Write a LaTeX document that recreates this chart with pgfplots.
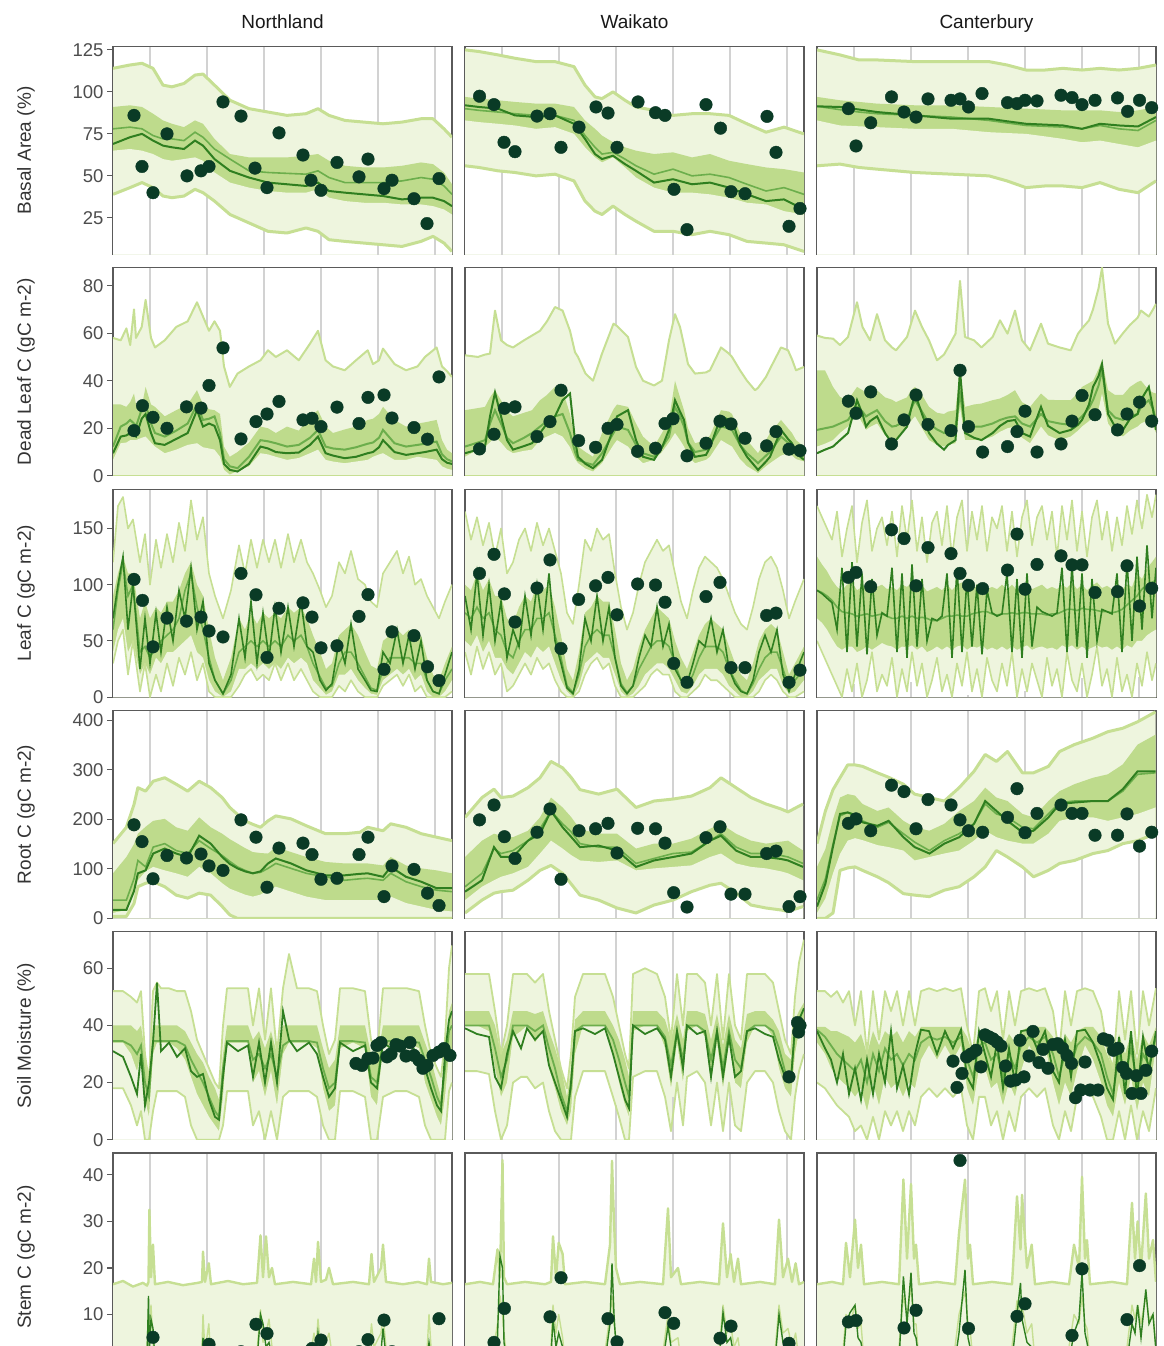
\documentclass[border=0pt]{standalone}
\usepackage{fontspec}
\setmainfont{Liberation Sans}
\usepackage{pgfplots}
\pgfplotsset{compat=1.18}
\usepackage{pgfplotstable}

\definecolor{pale}{HTML}{EEF5DE}
\definecolor{envc}{HTML}{C6DF93}
\definecolor{band}{HTML}{BEDB8C}
\definecolor{lineA}{HTML}{6CAE4C}
\definecolor{lineB}{HTML}{2F7F20}
\definecolor{ptc}{HTML}{0A3B26}
\definecolor{gridc}{HTML}{D2D2D2}
\definecolor{framec}{HTML}{5A5A5A}
\definecolor{tickc}{HTML}{4D4D4D}
\definecolor{labc}{HTML}{333333}

\pgfplotsset{
  env/.style={draw=envc, line width=3pt, mark=none, line join=round},
  lnA/.style={draw=lineA, line width=1.6pt, mark=none},
  lnB/.style={draw=lineB, line width=2pt, mark=none},
  obs/.style={only marks, mark=*, mark size=6.3pt, mark options={draw=ptc, fill=ptc}},
  panel/.style={scale only axis, width=339pt, height=208pt, xmin=0, xmax=339,
    xtick={37,94,151,208,265,322}, xticklabels={}, xmajorgrids,
    major x grid style={draw=gridc, line width=1.3pt},
    xtick style={draw=none}, tick pos=left, tick align=outside,
    axis line style={draw=framec, line width=1.2pt},
    ytick style={draw=framec, line width=1.2pt}, major tick length=6pt,
    /pgf/number format/assume math mode=true,
    yticklabel style={font=\fontsize{18.5}{20}\selectfont, text=tickc},
    every axis y label/.style={at={(axis description cs:0,0.5)}, xshift=-87pt,
      rotate=90, anchor=center, font=\fontsize{19}{21}\selectfont, text=labc},
    every axis title/.style={at={(axis description cs:0.5,1)}, anchor=base,
      yshift=18pt, font=\fontsize{19}{21}\selectfont, text=black!90},
  },
  inner/.style={ytick=\empty},
  rowA/.style={ymin=3.2, ymax=127, ytick={25,50,75,100,125}},
  rowB/.style={ymin=0, ymax=87.5, ytick={0,20,40,60,80}},
  rowC/.style={ymin=0, ymax=185, ytick={0,50,100,150}},
  rowD/.style={ymin=0, ymax=420, ytick={0,100,200,300,400}},
  rowE/.style={ymin=0, ymax=72.8, ytick={0,20,40,60}},
  rowF/.style={ymin=0, ymax=44.7, ytick={10,20,30,40}},
}

% #1 line options, #2 table, #3 grid-line stubs under the lower envelope
\newcommand{\bands}[3][]{%
  \addplot[fill=pale, draw=none, mark=none] table[x=x,y=up] {#2} \closedcycle;
  \addplot[fill=band, draw=none, mark=none] table[x=x,y=bh] {#2} \closedcycle;
  \addplot[fill=pale, draw=none, mark=none] table[x=x,y=bl] {#2} \closedcycle;
  \addplot[fill=white, draw=none, mark=none] table[x=x,y=lo] {#2} \closedcycle;
  \addplot[ycomb, draw=gridc, line width=1.3pt, mark=none] coordinates {#3};
  \addplot[env,#1] table[x=x,y=up] {#2};
  \addplot[env,#1] table[x=x,y=lo] {#2};
  \addplot[lnA,#1] table[x=x,y=m1] {#2};
  \addplot[lnB,#1] table[x=x,y=m2] {#2};
}
\newcommand{\stem}[1]{%
  \addplot[fill=pale, draw=none, mark=none] table[x=x,y=up] {#1} \closedcycle;
  \addplot[env, line width=2.4pt] table[x=x,y=up] {#1};
  \addplot[env, line width=1.4pt] table[x=x,y=bh] {#1};
  \addplot[lnB, line width=1.4pt] table[x=x,y=m2] {#1};
}

% ---------- Basal Area ----------
\pgfplotstableread{
x up lo bh bl m1 m2
0 114 39 91 65 78 69
17 116 43 92 66 79 73
29 117 46 91 65 78 75
40 114 43 87 63 74 71
50 104 38 83 60 72 68
59 103 37 81 59 72 67
71 105 38 79 60 71 66
82 110 42 83 61 76 71
90 110.6 40 81 59 73 68
101.5 104 35 72 52 66 60
117 95 27 63 46 60 53
136 90 22 61 43 53 49
155 88 17 61 41 52 46
174 86 16 61 40 51.5 45
193 87 19 62 40 51 44
205 90 17 63 42 53 46
216 86 12 59 37 49 41
232 83 11 56 35 46 40
251 82 10 55 34 46 39
270 81 9 55 34 46 38
289 82 8 56 33 47 36
308 84 11 58 33 49 37
320 84 14 57 32 48 37
331 78 10 52 30 44 35
339 73 5 45 27 39 32
}\tBaN
\pgfplotstableread{
x up lo bh bl m1 m2
0 125 56 97 83 90 92
14 124 55 96 82 89 91
33 122 53 95 81 88 90
50 120 52 94 80 87 86
71 118 50 93 78 86 85
90 118 51 93 79 86 86
109 115 47 91 75 83 81
120 104 35 83 67 74 72
130 97 29 78 61 67 63
137 96 27 74 58 63 60
148 100 32 70 61 64 62
160 95 27 67 55 60 57
171 91 23 65 49 56 53
189 89 17 63 43 51 46
208 86 17 64 40 54 48
227 87 15 61 40 50 45
245 87 17 63 39 51 46
264 86 15 59 37 49 43
282 81 11 57 34 45 39
301 76 10 55 33 41 35
319 79 9 54 29 43 36
339 75 5 52 27 39 30
}\tBaW
\pgfplotstableread{
x up lo bh bl m1 m2
0 125 56 97 83 91.4 91.4
23 122 57 95 80 89.4 91
42 119 55 94 79.5 88 89.5
60 119 54 93 79 87 88
98 118 52 92 78 86 86
135 118 51 92 78 85 84
172 118 50 91 76 83 84
190 116 47 90.5 75.5 81.5 82.5
209 113 43 90 75 80 81
228 113 44 89.5 73.5 79.5 80.5
246 114 44 89 72 79 80
265 113 43 89 70 78 78
283 114 46 89 71 80 81
302 113 42 88 69 78 80
321 114 40 89 67 77 79.4
339 116 47 91 71 83 85
}\tBaC
\pgfplotstableread{
x y
21 86
29 55.6
40 40
54 75
74 50
88 53
96 55.6
110 94
128 85.6
142 54.6
154 43
166 75.6
190 62.4
198 47.4
208 41.4
224 58
246 49.4
255 60
271 42.4
279 47.4
301 36.4
314 21.6
326 48.4
}\pBaN
\pgfplotstableread{
x y
14.5 97.4
29 92.4
39 70
50 64.4
72 85.6
85 87
96 67
114 79
131 91
143 87.4
152 67
173 94
190.5 87.6
200 86
209 42
222 18
241 92.4
255.5 78.4
266 40.6
280 39.4
302 85.4
311 64
324 20
335 30.6
}\pBaW
\pgfplotstableread{
x y
31.4 90
39 67.8
53.7 81.6
74.5 97
87 88
99 85
111 95.8
134 95
143 95.8
151.5 91
165 99
190.5 93.6
200 93
208 95
220 94.6
244 98
255 96.6
265 92.4
278 95
300.5 96.4
310.6 88.4
322.5 95
334.7 90.6
}\pBaC

% ---------- Dead Leaf C ----------
\pgfplotstableread{
x up lo bh bl m1 m2
0 58 0 30 6.7 12.3 9.5
7.7 57 0 30 13.7 20.7 16.5
13.4 62 0 29 14 22 17
17.2 55 0 31 15 23.5 18
21 70 0 34.6 15 22 17
23 58 0 30 15 20.7 16.5
28.7 62.6 0 29 16 28 24
32.6 74 0 37.4 16.5 30 26
38 58 0 30 14 22 18
42 54 0 29 12.3 18 13.7
51.7 57 0 25 9.5 16.5 13
63.2 62.6 0 27.6 11 19 15.5
74.7 65 0 30 13 22 18
84 73 0 36 13.7 30 27.6
90 67 0 30 12 23.5 20.7
96 61 0 28 11.5 24 22
101.5 65 0 27.6 11 25 21
107 61 0 26 8 18 15
111 46 0 12.3 2.5 7 5
116.8 37.4 0 8 0.5 4 2.5
124.5 43 0 10 2 3.2 1.8
136 46 0 14 4 8 5
147.5 48.6 0 20.7 9.5 15 12.3
155 52.8 0 20 9 14.5 11.5
162.8 50 0 18 8 13.7 10
174 52.8 0 20.7 6.7 12.3 9.5
185.8 48.6 0 19 7.5 13 9.8
197 55.6 0 25 9.5 16 13
205 61 0 27.6 11 19.3 16.5
212.6 48.6 0 20.7 6.7 12.3 9.5
220 46 0 18 6 11.5 8.5
231.7 44.4 0 19.5 5.3 11 7.4
243 48.6 0 20.7 6 12 8
254.7 52.8 0 23.5 6.7 13.5 9.5
260 47 0 24 8 14 10
266 48.6 0 26 9 16 12
270 53.5 0 29 9.5 19.3 15
281.5 47 0 23.5 6.7 13.7 10
293 44.4 0 20.7 6.7 12.3 8.8
304.5 46 0 22 8 13 9.5
312 50 0 22.5 7.5 13.5 10
323.6 54 0 23.5 6.7 14.4 11
329 46 0 15 4 9 7
334 44 0 11 3 7 5.5
339 41.6 0 9.5 2.5 6 5
}\tDlN
\pgfplotstableread{
x up lo bh bl m1 m2
0 50.7 0 27.6 8 12.3 9.5
13 50 0 28.5 11 14 11
20 51 0 29 12.3 15 12.3
25 51.4 0 33 14 22 25
30 69.5 0 36 16.5 27.6 35
36 57 0 31.8 14 22 25
42 55 0 27 11 16 15
48 54 0 25 9.5 13.7 11
59 57 0 26.5 10.5 16 12.5
67 59 0 27.6 11 18 13.7
75 61 0 31.8 15 20.7 18
82 65 0 34 16.5 23 22
90 71 0 37.4 18 25 25
97.6 69.5 0 36 16.5 26 31.8
105 61 0 26 12 18 34.6
110 52 0 15 7 10 15
113 50 0 12.3 5.3 6.7 8
120.5 43 0 10 3 5.5 5
128 40 0 8 1.8 4.6 3.2
137 51.4 0 18 5.3 9.5 6.7
148.5 64 0 28 13 18 20
152 63 0 30 15 20.7 25
163 58.4 0 29 12.3 19.3 27.6
171 45.8 0 22 8 13 15
178 40 0 16.5 5.3 9.5 8
189 38 0 12.3 6.7 8 6.7
197 40 0 18 10 12 12
204 57 0 23.5 14 16.5 19.3
210 68 0 40 18 29 31.8
215 62.6 0 33 15 25 27
219 55 0 27.6 12.3 20.7 23.5
223 47 0 20 8 14 14
230 43 0 13.7 5.3 10 8
241 43.5 0 15 6.7 11 8.8
245 44.4 0 17 8 13 12
256 54 0 27.6 15 20.7 25
264 51.4 0 27 13 20 23.5
267 50 0 26 12.3 19.3 23.5
275 44.4 0 18 7 13 13
282 40 0 15 4 9.5 8
290 36 0 11 2 6.5 4
293 37 0 9.5 1.1 5.3 2.5
301 41.6 0 15 4 8.5 6
305 45 0 18 5.3 10 8
316 54 0 23.5 8.5 16.5 19.3
323 52.8 0 20 9.5 14 15.5
327 49 0 18 8.5 12.3 13.7
331 44.4 0 15 7 10 9.5
339 45.8 0 12.3 6 8 6.7
}\tDlW
\pgfplotstableread{
x up lo bh bl m1 m2
0 59 0 44.4 12.3 19.3 9.5
8 58 0 44.4 13.5 20 11
16 57.7 0 37.4 15 20.7 12.3
23 55 0 33.2 18 22 15
31 58.4 0 31.8 20.7 23.5 18
40 73 0 37.4 26 29 31.8
45.5 62.6 0 36 22 27 26
49 60 0 34.6 19.3 25 20.7
53 57 0 35 20.5 26 23
60 68 0 36 22 27.6 25
68 57 0 33 17 23 18
75 54 0 32 13.7 20.7 13.7
79 52.8 0 31 15 21 15
90 58.4 0 33 20.7 23.5 20.7
94 64 0 36 23 28 28
98 69.5 0 37.4 25 31.8 34.6
105 62.6 0 34 20 27 26
112 57 0 29 15 22 18
120 48.6 0 26.5 13 19.5 13.5
127 51 0 26 12.3 18 11
131 54 0 27 13 19 13
138.5 59.8 0 27.6 13.7 20.7 15
143 82 0 44.4 29 34.6 44.4
148 58.4 0 29 15 20.7 18
157 57 0 30 15 20.7 16
164.5 54 0 30.4 15 20.7 15
175.6 58.4 0 31.8 16.5 22 18
183 65.4 0 32.5 18.5 23.5 21
190.5 59.8 0 34 20 24.5 23
198 69.5 0 36 20.7 25 23.5
205 57 0 31 16 22 18
213 52.8 0 29 13.7 20.7 16.5
224 64 0 34.6 20.7 26 29
231 55.6 0 32 17 23 21
242.5 54 0 31.8 15 22 18
253.7 52.8 0 31.8 16.5 21.4 19.3
261 59.8 0 35 19 23.5 21.5
265 62 0 37.4 20.7 25 23.5
272 65.4 0 39 23 28.5 30
276 70 0 40 25 31.8 37.4
281.6 79 0 45 28 38 42
285 87.5 0 48.6 34.6 44.4 47
291 64 0 36 22 27.6 26
298 55.6 0 34 18 24.5 20.7
306 60 0 34 16.5 23.5 19.3
313 63.5 0 37.4 19 25 24
320.6 66.5 0 39.5 20.7 26 26
324 69.5 0 40 22 29 32
331.8 67 0 36 23.5 31.8 37.4
336 70 0 35 21 28 28
339 72.3 0 34.6 18 23.5 19.3
}\tDlC
\pgfplotstableread{
x y
21 19
29.5 29.5
40 24.6
54 20
73.5 29
88 28.5
96 38
110 53.8
128 15.5
143 22.8
154 26
166 31.3
190 23.5
199 24.2
208 20.7
224 28.9
246 22
255 33
271 34
279 24.3
301 20.3
314.5 15.4
326 41.6
}\pDlN
\pgfplotstableread{
x y
14.5 11.3
29 17.5
39.4 28.4
50 29
72 16.5
85 22.8
96 36
113.6 14.8
130.6 12
143 20
152 21.6
172.6 10.3
190.5 11.6
200 22
208 24
222 8.4
241 13.7
255 23
266 21.8
280 15.8
301.6 12.6
311 18.6
324 11.2
335 10.6
}\pDlW
\pgfplotstableread{
x y
31.4 31.4
39 26.3
53.7 35.3
74.5 13.4
87 23.5
99 34
111 21.6
134 19
143 44.4
151.5 20.7
165.6 10
190.5 12.3
200 18.6
208 27.2
220 10
244 13.4
255 23
265 33.8
278 25.7
300.5 19.3
310 26
322.5 31
334.7 23
}\pDlC

% ---------- Leaf C ----------
\pgfplotstableread{
x up lo bh bl m1 m2
0 120 30 90 40 60 70
5 170 50 110 60 95 100
10 178 60 125 70 120 125
15 150 20 110 40 90 60
20 158 50 110 50 100 100
27 120 5 70 20 40 25
32 145 30 85 30 45 70
37 100 0 70 20 35 30
43 140 20 80 35 45 75
48 115 5 75 30 50 40
54 145 30 85 40 55 80
60 120 10 85 40 60 50
66 155 35 95 45 70 95
72 130 20 110 50 95 70
78 175 40 120 55 110 115
84 140 15 100 40 80 60
90 160 30 90 35 60 85
96 110 5 60 15 35 30
102 90 0 35 5 15 15
110 70 0 15 0 3 3
118 95 0 35 5 15 20
126 135 10 70 25 40 70
132 110 20 60 25 45 35
138 140 25 75 30 50 85
144 115 15 65 25 45 30
150 140 20 75 30 50 75
156 120 15 70 25 45 35
162 140 30 75 30 50 80
168 115 15 70 25 45 40
175 145 30 80 35 55 80
181 120 15 75 30 50 45
188 140 25 80 35 55 85
194 120 15 70 30 45 45
200 110 5 55 15 30 40
207 95 0 40 8 18 15
213 80 0 25 2 8 6
219 90 0 30 5 10 12
226 120 10 55 20 30 50
232 110 5 60 20 40 30
238 130 15 65 25 40 65
245 105 5 55 15 30 25
252 100 0 40 8 18 15
258 85 0 28 3 8 6
264 80 0 25 2 6 5
270 110 10 50 15 25 40
277 120 15 55 20 35 30
284 130 20 60 25 35 60
290 110 10 55 20 35 30
296 125 20 60 25 35 55
302 100 5 50 15 30 25
308 105 10 55 20 30 50
314 90 0 35 5 15 15
320 80 0 20 0 5 5
326 70 0 15 0 3 3
332 85 0 30 5 15 20
339 100 5 45 15 25 40
}\tLcN
\pgfplotstableread{
x up lo bh bl m1 m2
0 165 40 100 50 75 90
6 140 20 95 45 70 60
12 160 45 110 55 80 110
18 135 25 95 40 70 55
24 155 40 105 50 75 100
30 125 20 90 35 60 50
36 150 30 90 35 55 85
42 110 5 70 25 40 35
48 120 10 65 20 35 60
54 140 20 80 30 50 45
60 150 30 90 40 60 90
66 130 20 85 35 60 55
72 155 35 100 45 70 100
78 135 25 95 40 70 60
84 150 30 100 45 75 110
90 130 15 80 30 55 50
96 110 5 55 15 35 30
102 75 0 25 5 10 8
108 65 0 15 0 4 3
114 100 5 40 10 20 25
120 140 20 75 30 45 70
126 130 30 80 35 55 50
132 150 35 90 40 60 90
138 140 25 85 35 55 50
144 145 30 85 35 55 80
150 110 10 60 20 35 35
156 80 0 30 5 12 10
162 60 0 15 0 4 3
168 75 0 25 3 10 10
174 100 5 45 10 25 35
180 120 10 60 20 35 55
186 130 20 70 25 45 45
192 140 25 80 30 50 80
198 130 20 75 30 50 45
204 135 20 70 25 45 65
210 110 5 50 15 30 25
216 85 0 35 5 15 15
222 70 0 25 3 10 12
228 95 5 40 10 20 30
234 115 10 55 20 35 50
240 125 20 65 25 45 45
246 120 15 70 25 45 70
252 115 15 65 25 45 40
258 105 10 60 20 40 60
264 90 5 45 10 25 25
270 75 0 30 5 15 12
276 65 0 20 0 6 5
282 60 0 15 0 3 3
288 80 0 30 5 12 15
294 105 5 50 15 25 40
300 120 15 60 20 35 55
306 125 20 65 25 40 40
312 115 15 60 25 40 60
318 95 5 40 10 25 20
324 70 0 20 3 8 5
330 85 0 30 5 15 20
339 105 5 45 15 25 40
}\tLcW
\pgfplotstableread{
x up lo bh bl m1 m2
0 170 50 125 70 95 95
5 160 40 118 66 93 92
10 150 30 112 60 90 88
15 140 20 104 52 86 84
20 165 10 98 45 80 60
25 125 0 95 42 76 115
30 150 25 100 45 75 40
35 170 5 102 45 74 120
40 120 30 95 40 72 45
45 155 0 98 42 73 110
50 175 15 100 45 74 38
55 130 40 95 42 72 105
60 150 5 98 45 73 55
65 160 20 100 48 74 75
70 135 10 96 46 72 72
75 165 35 98 45 70 115
80 125 0 95 42 70 40
85 170 25 100 45 72 110
90 140 5 98 44 70 35
95 175 40 102 46 72 118
100 130 10 96 42 70 45
105 160 30 100 45 71 105
110 120 0 94 40 70 50
115 155 15 96 42 68 70
120 165 35 98 45 68 68
125 135 5 95 42 70 72
130 170 20 100 45 72 110
135 125 0 95 42 72 35
140 160 30 100 45 73 115
145 175 10 102 46 72 40
150 130 40 96 42 72 105
155 165 5 100 45 74 45
160 140 25 97 44 75 100
165 170 0 100 46 76 38
170 130 35 96 42 76 95
175 160 15 98 44 74 75
180 150 5 96 42 73 72
185 170 30 100 45 74 74
190 130 10 96 42 74 110
195 165 40 100 45 75 40
200 125 0 95 42 74 105
205 160 25 98 44 75 35
210 175 5 100 46 75 110
215 135 30 96 42 74 45
220 160 15 98 44 74 80
225 170 0 100 45 74 76
230 140 35 96 43 73 74
235 165 10 98 44 74 72
240 125 25 96 42 74 75
245 170 0 100 46 76 115
250 140 40 97 44 78 40
255 175 15 102 46 78 118
260 130 5 96 42 77 45
265 165 30 100 45 79 110
270 125 0 95 42 78 35
275 160 20 99 44 78 105
280 175 45 102 46 77 50
285 140 10 97 44 76 78
290 165 25 99 45 76 76
295 130 0 96 42 75 74
300 160 35 100 45 76 110
305 135 5 96 42 78 40
310 170 20 100 46 82 120
315 145 0 98 44 86 50
320 175 30 110 50 90 125
325 150 10 105 50 96 60
330 180 40 115 55 100 135
335 160 15 120 58 102 70
339 180 30 125 60 104 115
}\tLcC
\pgfplotstableread{
x y
21 104.7
29.5 86
40 44.7
54 70.3
73.5 67.6
88 71.2
96 58.8
110 53.5
128 110
143 91
154 35.3
166 79
190 83.8
199 71.2
208 43.8
224 45.6
246 71.8
255 91.2
271 24.7
279 58
301 54.7
314.5 27
326 14.7
}\pLcN
\pgfplotstableread{
x y
14.5 110
29 127
39.4 91.8
50 66.8
72 97
85 122
96 43.2
113.6 86.8
130.6 99
143 106.5
152 73.2
172.6 100.6
190.5 99.7
200 84.4
208.7 30
222 13.2
241 89.4
255 102
266 26.2
280 26.2
301.6 72.6
311 74.7
324 13.2
335 24
}\pLcW
\pgfplotstableread{
x y
31.4 106.5
39 110.9
53.7 98.2
74.5 148.8
87 141
99 99
111 133
134 127.6
143 110
151.5 99.4
165.6 96.5
190.5 113
200 145
208 96
220 118
244 125.6
255 117.6
265 117.6
278 93
300.5 93.8
310 116.8
322.5 81
334.7 96.8
}\pLcC

% ---------- Root C ----------
\pgfplotstableread{
x up lo bh bl m1 m2
0 151 4 91 11 37 17
13.4 184 4 124 17 37 17
21 230 30 150 50 80 55
24.9 264 64 171 77 117 91
32.6 257 71 185 95 104 97
40.2 277 74 197 104 144 131
51.7 284 64 201 97 151 141
63.2 271 47 184 91 137 131
74.7 257 41 177 84 131 124
86.2 277 51 204 104 157 167
97.7 264 47 184 91 141 151
109.2 244 24 171 71 127 124
116.8 224 7 160 60 115 110
124.5 210 0 151 54 104 101
132 197 0 142 48 97 95
139.8 190 0 134 44 91 91
147.5 184 0 132 48 93 95
155 197 0 131 57 101 111
162.8 207 0 144 64 111 121
178 201 0 134 54 101 111
193.4 187 0 124 44 91 97
212.6 171 0 114 37 84 87
231.7 171 0 111 37 77 87
247 174 0 111 37 80 90
254.7 184 0 111 37 81 91
270 177 0 107 37 77 84
277.7 191 0 124 44 91 104
293 184 0 107 31 74 84
308.3 171 0 101 24 64 74
323.6 164 0 97 17 57 61
339 157 0 91 14 54 61
}\tRcN
\pgfplotstableread{
x up lo bh bl m1 m2
0 204 11 124 37 64 54
17 244 37 157 64 91 77
29 261 51 171 77 141 144
36 244 54 167 84 131 124
48 247 57 164 91 137 124
63 264 77 177 104 157 157
75 284 97 204 131 181 171
86 317 107 244 157 217 217
97.6 304 91 224 141 191 184
106 285 70 205 128 175 165
115 260 47 180 117 151 144
133.6 251 37 171 114 144 147
152 261 21 171 117 144 137
171 224 11 141 97 111 104
189 237 27 151 101 121 117
208 241 37 151 104 131 124
226.5 247 54 161 107 134 131
245 264 67 181 124 157 157
256 284 71 191 131 171 167
271 264 51 171 111 144 137
286 244 27 157 104 131 124
301 231 21 151 101 131 124
316 221 17 155 95 127 120
323 215 14 157 91 124 117
338 231 24 137 77 111 104
}\tRcW
\pgfplotstableread{
x up lo bh bl m1 m2
0 151 0 104 11 37 24
8.4 217 0 140 40 80 70
16 260 11 200 91 150 145
23 284 97 244 130 207 211
30.7 310 102 251 157 214 214
38 310 104 248 162 210 208
45.5 307 97 231 158 197 194
60.4 294 84 217 148 184 187
71.6 285 72 224 144 194 197
86.4 271 50 197 137 171 164
97.6 251 47 184 117 154 144
112.4 244 44 177 124 137 131
127.3 237 57 191 131 157 151
142.2 264 64 217 137 171 164
157 297 84 237 157 191 191
168.2 331 104 264 177 231 237
179.4 317 137 244 164 211 217
190.5 337 124 237 157 204 197
205.4 294 104 211 151 184 174
216.5 294 84 204 151 181 177
231.4 307 97 237 171 211 204
242.6 337 111 257 197 234 231
257.4 351 117 271 204 237 234
276 364 131 284 204 237 237
290.9 377 137 291 197 237 237
305.8 384 151 311 204 257 261
320.6 397 157 351 211 291 297
338.5 417 171 371 224 294 297
}\tRcC
\pgfplotstableread{
x y
21 189
29 155
40 80
54 127
73.5 122
88 130
96 106
110 97
128 199
143 164
154 63
166 142
190 152
199 129
208 79
224 81
246 129
255 164
271 44
279 106
301 99
314.5 51
326 26
}\pRcN
\pgfplotstableread{
x y
14.5 199
29 229
39.4 165
50 121
72 174
85 221
96 79
114 177
130.6 181
143 192
152 132
172.6 182
190.5 181
200 152
208.7 52
222 23
241 163
255 185
266 49
280 49
301.6 131
311 136
324 24
335 44
}\pRcW
\pgfplotstableread{
x y
31.4 192
39 201
53.7 177
74.5 269
87 256
99 181
111 240
134 229
143 199
151.5 177
165.6 174
190.5 204
200 262
208 173
220 212
244 229
255 212
265 212
278 168
300.5 168
310 211
322.5 146
334.7 174
}\pRcC

% ---------- Soil Moisture ----------
\pgfplotstableread{
x up lo bh bl m1 m2
0 52 18 40 34 34.5 31
10 52 18 40 34 34.5 29
18 50 12 40 30 33 22
24 48 5 38 24 30 16
28 52 10 40 30 33 30
32 30 0 30 14 20 12
36 20 0 22 8 15 20
40 52 10 40 30 34.5 34
44 55 17 40 34 34.5 55
48 53 17 40 34 34.5 31
56 53 17 40 34 34.5 34
64 52 17 40 32 34.5 29
72 52 15 38 28 33 32
78 45 5 34 22 28 24
84 35 0 30 16 24 22
90 30 0 27 12 20 23
96 25 0 22 8 15 14
102 20 0 18 5 10 8
106 18 0 14 3 8 7
110 40 5 30 15 25 22
114 53 17 40 34 34.5 34
125 53 17 40 34 34.5 31
135 53 17 40 34 34.5 33
140 40 5 35 20 28 22
146 53 10 38 24 30 34
152 35 0 32 15 25 20
158 53 10 38 24 30 34
164 30 0 30 12 22 20
170 53 15 40 30 33 45
176 65 17 40 34 34.5 35
184 53 17 40 34 34.5 31
196 53 17 40 34 34.5 34
204 52 15 40 32 34 30
210 40 5 32 18 25 22
216 30 0 25 10 18 15
222 35 0 28 12 20 18
227 53 17 40 32 34.5 34
240 53 17 40 34 34.5 31
252 52 15 40 32 34 33
258 35 0 30 15 22 20
264 30 0 28 12 20 18
270 53 15 40 32 34.5 34
282 53 17 40 34 34.5 31
294 53 17 40 34 34.5 34
306 52 15 40 32 34 30
312 40 5 34 20 28 25
318 30 0 28 14 22 18
324 25 0 20 8 15 12
328 22 0 15 5 12 10
332 35 0 30 15 25 30
336 60 17 45 30 38 42
339 68 20 48 30 40 45
}\tSmN
\pgfplotstableread{
x up lo bh bl m1 m2
0 58 24 45 40 40 39
12 58 24 45 40 40 37
24 58 23 45 38 40 36
30 45 10 40 25 32 22
36 30 0 30 15 22 18
42 40 5 35 20 28 30
48 58 20 45 36 40 38
56 58 22 45 38 40 32
62 58 22 45 40 40 39
70 55 18 44 34 38 35
78 58 20 45 38 40 38
84 45 10 38 25 32 26
90 35 3 32 18 25 20
96 25 0 25 10 16 14
102 18 0 15 5 10 8
106 30 0 25 10 18 20
110 50 15 42 30 38 38
118 58 24 45 40 40 39
130 58 24 45 40 40 37
140 58 24 45 40 40 39
148 50 15 40 30 35 30
154 40 8 35 20 28 22
160 30 0 28 12 20 14
164 25 0 22 8 15 11
168 58 22 45 38 40 40
180 60 24 45 40 40 37
192 58 24 45 40 40 39
200 50 15 42 32 36 35
206 35 3 35 18 26 22
212 58 20 44 34 38 38
218 40 5 35 20 28 25
222 58 22 45 38 40 40
232 58 24 45 40 40 37
240 55 20 44 36 38 38
246 40 5 35 20 28 22
252 58 20 44 34 38 38
258 35 3 33 18 25 22
264 58 20 44 34 38 36
270 40 5 35 20 28 22
276 35 3 32 18 25 24
282 58 20 44 34 38 38
290 58 24 45 40 40 39
300 58 24 45 40 40 37
308 55 20 42 36 38 36
314 45 10 38 25 32 28
320 35 3 30 18 24 22
326 30 0 28 15 22 21
330 50 15 42 30 38 40
334 62 24 45 38 40 42
339 70 30 48 40 42 46
}\tSmW
\pgfplotstableread{
x up lo bh bl m1 m2
0 52 20 39.5 34 38.5 38
8 52 18 39.5 30 36 32
14 50 15 38 25 33 28
20 52 12 38 22 30 20
26 48 10 37 20 28 30
32 52 8 36 18 26 16
38 40 3 34 15 24 25
44 52 5 37 18 28 14
50 30 0 30 10 20 28
56 52 8 38 20 30 16
62 35 0 33 12 24 30
68 52 10 38 22 32 20
74 45 5 36 18 28 38
80 52 10 38 20 30 18
86 40 3 34 15 26 26
92 52 10 38 20 30 16
98 40 5 36 18 28 30
104 52 15 39.5 28 34 38.5
112 53 18 39.5 33 36 38
120 52 15 39.5 28 35 30
128 53 18 39.5 33 36 38
136 52 15 39.5 28 34 32
144 53 18 39.5 33 36 38.5
150 40 5 36 18 28 22
156 30 0 30 12 22 18
162 52 15 38 25 33 38
168 53 15 38 25 34 30
174 45 5 36 18 28 22
180 52 10 37 20 30 34
186 35 0 32 12 22 18
192 52 10 37 20 30 32
198 40 3 34 15 25 20
204 52 15 38 24 33 38
212 53 18 39.5 33 36 38.5
220 52 15 39.5 28 34 32
228 53 18 39.5 33 36 38
236 45 5 36 20 30 24
242 30 0 30 12 22 20
248 52 10 37 20 30 35
254 40 3 34 15 26 22
260 52 15 38 24 33 38
268 53 18 39.5 33 36 38.5
276 52 15 39.5 28 34 34
284 45 8 36 20 30 26
290 32 0 30 12 22 18
296 25 0 25 8 16 14
302 52 10 37 20 30 36
308 35 0 30 12 22 16
314 52 12 37 22 32 38
320 30 0 28 10 20 15
326 52 10 37 20 30 36
332 40 3 33 15 26 24
339 53 18 39.5 33 36 38
}\tSmC
\pgfplotstableread{
x y
243 26.7
249 26
255 28.4
260 28.6
264 33
268 34
274 29
278 30
283 33.3
287 32.8
293 29.3
297 34
301 29.5
306 27.8
310 25
314 26
320 29.5
326 30.7
331 31.9
337 29.5
}\pSmN
\pgfplotstableread{
x y
324 22
332.5 41
333.6 37.7
335 40
}\pSmW
\pgfplotstableread{
x y
136 27.5
140 18.3
145 23.2
149.6 29
154 30
159 31.3
164 25.5
168 36.7
172 36
176 35.3
180 34.2
184 32.8
188.6 25.8
193.5 20.5
198.7 20.9
203 34.8
207 22
212 29.3
216 37.9
222 27
226 31.6
231 25
236 33.3
240.7 33.6
245.5 32
250 29.5
254.5 26.7
258.5 14.7
263.7 17.4
268 27.2
273 17.4
281 17.4
286.4 35.3
291 34.8
296.5 31.3
301 32
305.7 25.3
309.5 23.2
315 16.2
319.5 22.4
324 16.2
328.8 24.3
334.7 31
}\pSmC

% ---------- Stem C ----------
\pgfplotstableread{
x up bh m2
0 16.5 0 0
10 17.2 0 0
20 16 0 0
30 16.8 0 0
34 16.2 3 0
35.5 17 10 14
36.4 32.5 5 2
38 18 12 9
40 25 4 7
42 16.5 0 0
55 17 0 0
70 16.3 0 0
85 16.8 0 0
89 17 3 1
90 23.5 10 5
92 17 2 1
95.8 21 8 4
98 16.5 0 0
115 17.2 0 0
130 16.5 0 0
144 16.8 2 0
147.5 27 11 10
150 18 4 8
153 26.8 6 3
156 18 9 4
159 20 3 1
162 16.5 0 0
180 17 0 0
198 16.5 2 0
201 22 6 2
203 17 3 1
205 25.6 9 6
208 17 2 1
213 17.5 4 1
216 20 6 2
220 16.5 0 0
240 17 0 0
256 16.5 2 0
258.5 23 8 3
261 17 3 1
268 20 6 2
270 25 10 7
273 17 3 1
290 16.5 0 0
305 17 0 0
314 16.5 2 0
316 22 10 4
318 17 3 1
330 16.5 0 0
339 16.8 0 0
}\tScN
\pgfplotstableread{
x up bh m2
0 16.5 0 0
15 17 0 0
28 16.5 2 0
32.5 24 8 5
35 18 14 22.5
37.5 43.2 10 20
39 18 6 4
42 16.5 0 0
60 17 0 0
80 16.5 0 0
86 17 3 1
88 26.8 12 9
91 18 6 3
93.7 25.4 10 6
97.6 23 5 3
100 16.5 0 0
120 17 0 0
140 16.5 2 0
145 25 10 8
147 43 14 21
149 30 8 10
151 20 5 3
155 16.5 0 0
175 17 0 0
198 16.5 2 0
203 32.8 10 7.5
206 18 4 3
213 20 5 2
216 16.5 0 0
235 17 0 0
254 16.5 2 0
258 29.6 12 10.4
262 18 6 4
265.6 23 8 5
269 17 3 1
273 22 5 2
276 16.5 0 0
295 17 0 0
310 16.5 2 0
314 30.4 12 10
318 18 6 4
323 22 7 3
327 17 3 1
330.6 21 6 2
334 16.5 0 0
339 17 0 0
}\tScW
\pgfplotstableread{
x up bh m2
0 16.5 0 0
15 17 0 0
26 16.5 2 0
29 25.4 10 8
33 18 8 10.4
38 30.4 12 12
41 20 7 5
44 25 8 4
47 16.5 0 0
65 17 0 0
82 16.5 3 0
86.4 39 14 18.2
90 22 10 8
94 38 16 19
97 22 8 6
99 25 8 5
102 16.5 0 0
120 17 0 0
138 16.5 3 0
142 27.5 10 6
148 39 15 19.6
151 22 8 5
153 25 7 3
156 16.5 0 0
175 17 0 0
195 16.5 3 0
200 35.4 13 10
203.5 24 10 16.8
205 35.7 12 9
210 20 6 4
214.7 25 8 3
218 16.5 0 0
235 17 0 0
252 16.5 3 0
257 25 10 6
262 20 8 9
265 39.6 14 19
268 22 8 6
270 26 7 4
273 16.5 0 0
295 17 0 0
310 16.5 3 0
315 34 12 8
318 22 9 6
320.6 30 12 12
324 20 8 5
328.8 36 14 15.4
332 22 9 8
336 26 10 10
339 17 3 2
}\tScC
\pgfplotstableread{
x y
21 1
29 0.5
40 5.1
54 1.5
96 3.6
110 1
128 2
143 7.9
154 5.9
166 1
190 1.5
199 2.7
208 4.5
224 1
246 2
255 4.6
271 8.8
279 2
301 1
314.5 1.5
326 9.1
}\pScN
\pgfplotstableread{
x y
29 4
39.4 11.3
85 9.5
96 17.9
143 9.1
152 4.1
200 10.4
208.7 8.1
255 4.9
266 7.5
324 3.8
}\pScW
\pgfplotstableread{
x y
31.4 8.4
39 8.7
87 7.1
99 10.9
143 43.1
151.5 7
200 9.6
208 12.3
255 5.5
265 19.8
310 8.9
322.5 20.5
}\pScC

\begin{document}
\begin{tikzpicture}

% row 1
\begin{axis}[panel, rowA, at={(113pt,-46.5pt)}, anchor=north west,
  ylabel={Basal Area (\%)}, title={Northland}]
\bands{\tBaN}{(37,44)(94,38)(151,18)(208,16)(265,9.3)(322,13.3)}
\addplot[obs] table {\pBaN};
\end{axis}
\begin{axis}[panel, rowA, inner, at={(465pt,-46.5pt)}, anchor=north west, title={Waikato}]
\bands{\tBaW}{(37,52.8)(94,50.2)(151,31)(208,17)(265,15)(322,8.5)}
\addplot[obs] table {\pBaW};
\end{axis}
\begin{axis}[panel, rowA, inner, at={(817pt,-46.5pt)}, anchor=north west, title={Canterbury}]
\bands{\tBaC}{(37,55.5)(94,52.2)(151,50.5)(208,43.2)(265,43)(322,40.4)}
\addplot[obs] table {\pBaC};
\end{axis}

% row 2
\begin{axis}[panel, rowB, at={(113pt,-267.8pt)}, anchor=north west,
  ylabel={Dead Leaf C (gC m-2)}]
\bands[line width=2pt]{\tDlN}{(37,0)}
\addplot[obs] table {\pDlN};
\end{axis}
\begin{axis}[panel, rowB, inner, at={(465pt,-267.8pt)}, anchor=north west]
\bands[line width=2pt]{\tDlW}{(37,0)}
\addplot[obs] table {\pDlW};
\end{axis}
\begin{axis}[panel, rowB, inner, at={(817pt,-267.8pt)}, anchor=north west]
\bands[line width=2pt]{\tDlC}{(37,0)}
\addplot[obs] table {\pDlC};
\end{axis}

% row 3
\begin{axis}[panel, rowC, at={(113pt,-489.1pt)}, anchor=north west,
  ylabel={Leaf C (gC m-2)}]
\bands[line width=1.6pt]{\tLcN}{(37,0)(94,13)(151,19)(208,0)(265,2)(322,0)}
\addplot[obs] table {\pLcN};
\end{axis}
\begin{axis}[panel, rowC, inner, at={(465pt,-489.1pt)}, anchor=north west]
\bands[line width=1.6pt]{\tLcW}{(37,26)(94,8)(151,8)(208,10)(265,4)(322,2)}
\addplot[obs] table {\pLcW};
\end{axis}
\begin{axis}[panel, rowC, inner, at={(817pt,-489.1pt)}, anchor=north west]
\bands[line width=1.6pt]{\tLcC}{(37,12)(94,13)(151,2)(208,5)(265,17)(322,18)}
\addplot[obs] table {\pLcC};
\end{axis}

% row 4
\begin{axis}[panel, rowD, at={(113pt,-710.4pt)}, anchor=north west,
  ylabel={Root C (gC m-2)}]
\bands{\tRcN}{(37,72.7)(94,48.3)}
\addplot[obs] table {\pRcN};
\end{axis}
\begin{axis}[panel, rowD, inner, at={(465pt,-710.4pt)}, anchor=north west]
\bands{\tRcW}{(37,54.2)(94,96)(151,22)(208,37)(265,59)(322,14.4)}
\addplot[obs] table {\pRcW};
\end{axis}
\begin{axis}[panel, rowD, inner, at={(817pt,-710.4pt)}, anchor=north west]
\bands{\tRcC}{(37,104)(94,48)(151,76)(208,99)(265,123)(322,158)}
\addplot[obs] table {\pRcC};
\end{axis}

% row 5
\begin{axis}[panel, rowE, at={(113pt,-931.7pt)}, anchor=north west,
  ylabel={Soil Moisture (\%)}]
\bands[line width=1.8pt]{\tSmN}{(37,2.5)(94,0)(151,2)(208,8)(265,3)(322,0)}
\addplot[obs] table {\pSmN};
\end{axis}
\begin{axis}[panel, rowE, inner, at={(465pt,-931.7pt)}, anchor=north west]
\bands[line width=1.8pt]{\tSmW}{(37,1)(94,0)(151,12)(208,15)(265,17)(322,2)}
\addplot[obs] table {\pSmW};
\end{axis}
\begin{axis}[panel, rowE, inner, at={(817pt,-931.7pt)}, anchor=north west]
\bands[line width=1.8pt]{\tSmC}{(37,4)(94,8)(151,4)(208,16)(265,17)(322,3)}
\addplot[obs] table {\pSmC};
\end{axis}

% row 6
\begin{axis}[panel, rowF, at={(113pt,-1153pt)}, anchor=north west,
  ylabel={Stem C (gC m-2)}]
\stem{\tScN}
\addplot[obs] table {\pScN};
\end{axis}
\begin{axis}[panel, rowF, inner, at={(465pt,-1153pt)}, anchor=north west]
\stem{\tScW}
\addplot[obs] table {\pScW};
\end{axis}
\begin{axis}[panel, rowF, inner, at={(817pt,-1153pt)}, anchor=north west]
\stem{\tScC}
\addplot[obs] table {\pScC};
\end{axis}

\pgfresetboundingbox
\useasboundingbox (0,0) rectangle (1163pt,-1346pt);
\end{tikzpicture}
\end{document}
